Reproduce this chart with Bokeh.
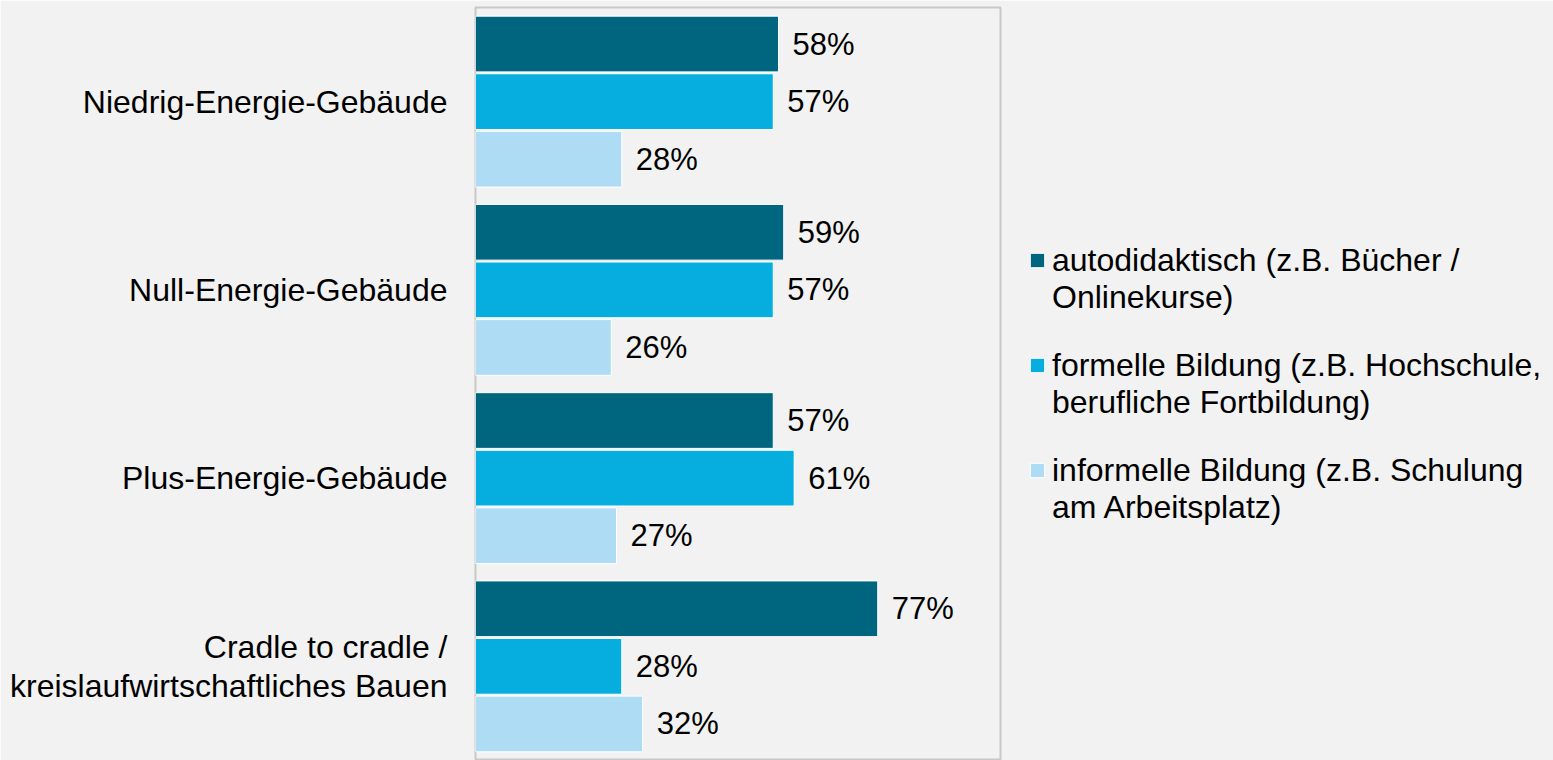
from bokeh.plotting import figure
from bokeh.models import ColumnDataSource, FactorRange, Range1d, LabelSet, Legend, LegendItem
from bokeh.transform import dodge
from bokeh.core.properties import value
from bokeh.embed import file_html
from bokeh.resources import INLINE

categories = [
    "Niedrig-Energie-Gebäude",
    "Null-Energie-Gebäude",
    "Plus-Energie-Gebäude",
    "Cradle to cradle /\nkreislaufwirtschaftliches Bauen",
]
series_line1 = [
    "autodidaktisch (z.B. Bücher /",
    "formelle Bildung (z.B. Hochschule,",
    "informelle Bildung (z.B. Schulung",
]
series_line2 = [
    "Onlinekurse)",
    "berufliche Fortbildung)",
    "am Arbeitsplatz)",
]
autodidaktisch = [58, 59, 57, 77]
formell = [57, 57, 61, 28]
informell = [28, 26, 27, 32]
colors = ["#006680", "#05AEDE", "#AEDCF5"]

FONT = "Liberation Sans"
BG = "#F2F2F2"

p = figure(
    y_range=FactorRange(factors=list(reversed(categories)), range_padding=0),
    x_range=Range1d(0, 100.5),
    frame_width=525, frame_height=753,
    min_border_left=475, min_border_right=550, min_border_top=7, min_border_bottom=0,
    output_backend="svg", toolbar_location=None,
    background_fill_color=BG, border_fill_color=BG,
)
p.outline_line_color = "#C8C8C8"
p.outline_line_width = 2
p.xaxis.visible = False
p.xgrid.visible = False
p.ygrid.visible = False
p.yaxis.axis_line_color = None
p.yaxis.major_tick_line_color = None
p.yaxis.minor_tick_line_color = None
p.yaxis.major_tick_out = 0
p.yaxis.major_tick_in = 0
p.yaxis.major_label_text_font = FONT
p.yaxis.major_label_text_font_size = "32px"
p.yaxis.major_label_text_line_height = 1.09
p.yaxis.major_label_text_color = "#000000"
p.yaxis.major_label_standoff = 28

offsets = [0.306, 0.0, -0.306]
all_series = [autodidaktisch, formell, informell]
blank = p.hbar(y=[], right=[], height=0.1, fill_alpha=0, line_alpha=0)
items = []
for i, (l1, l2, vals, off, col) in enumerate(zip(series_line1, series_line2, all_series, offsets, colors)):
    src = ColumnDataSource(dict(cat=categories, val=vals, lbl=[f"{v}%" for v in vals]))
    r = p.hbar(y=dodge("cat", off, range=p.y_range), right="val", left=0, height=0.296,
               source=src, fill_color=col, line_color="white", line_width=1)
    labels = LabelSet(x="val", y=dodge("cat", off, range=p.y_range), text="lbl", source=src,
                      x_offset=14, text_baseline="middle", text_align="left",
                      text_font=value(FONT), text_font_size=value("31px"), text_color="#000000")
    p.add_layout(labels)
    items.append(LegendItem(label=l1, renderers=[r]))
    items.append(LegendItem(label=l2, renderers=[blank]))
    if i < len(series_line1) - 1:
        items.append(LegendItem(label=" ", renderers=[blank]))

legend = Legend(items=items, location="left", margin=28, padding=10,
                glyph_width=18, glyph_height=18, label_standoff=6, spacing=-3,
                label_height=31, label_text_line_height=0.95,
                label_text_font=FONT, label_text_font_size="32px", label_text_color="#000000",
                border_line_color=None, background_fill_alpha=0)
p.add_layout(legend, "right")

open("out.html", "w").write(file_html(p, INLINE))
